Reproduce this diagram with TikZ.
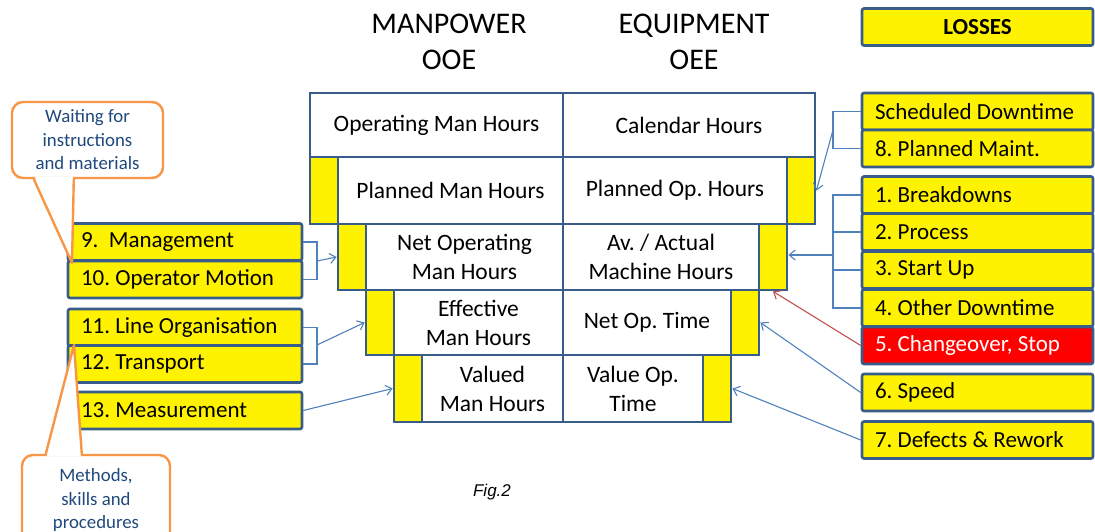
\documentclass[tikz,border=0pt]{standalone}
\usepackage{fontspec}
\setmainfont{Carlito}
\newfontfamily\figfont{Liberation Sans}
\usetikzlibrary{arrows.meta,calc}
\frenchspacing

\definecolor{boxblue}{HTML}{385D8A}
\definecolor{linkblue}{HTML}{4F81BD}
\definecolor{linkred}{HTML}{C0504D}
\definecolor{calloutorange}{HTML}{F79646}
\definecolor{callouttext}{HTML}{1F497D}

\tikzset{
  lossbox/.style={draw=boxblue, fill=yellow, line width=2.6pt, rounded corners=2pt,
    minimum height=37pt, text width=205pt, inner xsep=13pt, inner ysep=0pt,
    align=flush left, font=\fontsize{23}{27}\selectfont, anchor=center},
  cell/.style={draw=boxblue, line width=2.8pt, fill=white, inner sep=0pt,
    align=center, font=\fontsize{23.5}{29}\selectfont},
  strip/.style={draw=boxblue, line width=2.8pt, fill=yellow, inner sep=0pt},
  head/.style={font=\fontsize{30}{36}\selectfont, align=center},
  link/.style={draw=linkblue, line width=1.1pt},
  linkarrow/.style={link, -{Straight Barb[length=6pt,width=10pt]}},
  callout/.style={draw=calloutorange, line width=2.4pt, fill=white, rounded corners=11pt,
    align=center, text=callouttext, font=\fontsize{18.8}{23.5}\selectfont, inner sep=0pt}
}

\begin{document}
\begin{tikzpicture}[x=1pt,y=-1pt]
\useasboundingbox (0,0) rectangle (1095,532);

% column headings
\node[head] (hman) at (449,42) {MANPOWER\\OOE};
\node[head] (heq) at (694,42) {EQUIPMENT\\OEE};
\node[lossbox, align=center, font=\fontsize{23}{27}\selectfont\bfseries] (losses) at (977.5,27) {LOSSES};

% loss table: cells (centre x, centre y, width, height)
% row 1
\node[cell, minimum width=253pt, minimum height=64pt] (c1a) at (436.5,125) {Operating Man Hours};
\node[cell, minimum width=252pt, minimum height=64pt] (c1b) at (689,125) {Calendar Hours};
% row 2
\node[cell, minimum width=225pt, minimum height=67pt] (c2a) at (450.5,190.5) {Planned Man Hours};
\node[cell, minimum width=224pt, minimum height=67pt] (c2b) at (675,190.5) {Planned Op. Hours};
\node[strip, minimum width=28pt, minimum height=67pt] (s2L) at (324,190.5) {};
\node[strip, minimum width=28pt, minimum height=67pt] (s2R) at (801,190.5) {};
% row 3
\node[cell, minimum width=197pt, minimum height=66pt] (c3a) at (464.5,257) {Net Operating\\Man Hours};
\node[cell, minimum width=196pt, minimum height=66pt] (c3b) at (661,257) {Av. / Actual\\Machine Hours};
\node[strip, minimum width=28pt, minimum height=66pt] (s3L) at (352,257) {};
\node[strip, minimum width=28pt, minimum height=66pt] (s3R) at (773,257) {};
% row 4
\node[cell, minimum width=169pt, minimum height=65pt] (c4a) at (478.5,322.5) {Effective\\Man Hours};
\node[cell, minimum width=168pt, minimum height=65pt] (c4b) at (647,322.5) {Net Op. Time};
\node[strip, minimum width=28pt, minimum height=65pt] (s4L) at (380,322.5) {};
\node[strip, minimum width=28pt, minimum height=65pt] (s4R) at (745,322.5) {};
% row 5
\node[cell, minimum width=141pt, minimum height=67pt] (c5a) at (492.5,388.5) {Valued\\Man Hours};
\node[cell, minimum width=140pt, minimum height=67pt] (c5b) at (633,388.5) {Value Op.\\Time};
\node[strip, minimum width=28pt, minimum height=67pt] (s5L) at (408,388.5) {};
\node[strip, minimum width=28pt, minimum height=67pt] (s5R) at (717,388.5) {};

% equipment losses
\node[lossbox] (sched) at (977.5,111.5) {Scheduled Downtime};
\node[lossbox] (pm) at (977.5,148.5) {8. Planned Maint.};
\node[lossbox] (bd) at (977.5,195) {1. Breakdowns};
\node[lossbox] (proc) at (977.5,232) {2. Process};
\node[lossbox] (su) at (977.5,270) {3. Start Up};
\node[lossbox] (od) at (977.5,308) {4. Other Downtime};
\node[lossbox, fill=red, text=white] (co) at (977.5,345.5) {5. Changeover, Stop};
\node[lossbox] (sp) at (977.5,392.5) {6. Speed};
\node[lossbox] (dr) at (977.5,440) {7. Defects \& Rework};

% manpower losses
\node[lossbox, text width=208pt] (mg) at (185,242) {9.\ \ Management};
\node[lossbox, text width=208pt] (om) at (185,279.5) {10. Operator Motion};
\node[lossbox, text width=208pt] (lo) at (185,327.5) {11. Line Organisation};
\node[lossbox, text width=208pt] (tr) at (185,364) {12. Transport};
\node[lossbox, text width=208pt] (ms) at (185,410.5) {13. Measurement};

% junctions of the bracket connectors
\coordinate (jA) at (833,130);
\coordinate (jB) at (833,255);
\coordinate (jC) at (317,261);
\coordinate (jD) at (317,345);

% right-hand connectors
\draw[link] (sched.west) -| (jA);
\draw[link] (pm.west) -| (jA);
\draw[linkarrow] (jA) -- (s2R.east);
\draw[link] (bd.west) -| (jB);
\draw[link] (od.west) -| (jB);
\draw[link] (proc.west) -- (proc.west -| jB);
\draw[link] (su.west) -- (su.west -| jB);
\draw[linkarrow] (jB) -- (jB -| s3R.east);
\draw[linkarrow, draw=linkred] (co.west) -- (s3R.south);
\draw[linkarrow] (sp.west) -- (s4R.east);
\draw[linkarrow] (dr.west) -- (s5R.east);

% left-hand connectors
\draw[link] (mg.east) -| (jC);
\draw[link] (om.east) -| (jC);
\draw[linkarrow] (jC) -- (s3L.west);
\draw[link] (lo.east) -| (jD);
\draw[link] (tr.east) -| (jD);
\draw[linkarrow] (jD) -- (s4L.west);
\draw[linkarrow] (ms.east) -- (s5L.west);

% callouts
\node[callout, minimum width=151pt, minimum height=76pt] (cw) at (87.5,140) {Waiting for\\instructions\\and materials};
\coordinate (cwTip) at (72,263);
\fill[white] ($(cw.south west)+(24,-2.5)$) -- (cwTip) -- ($(cw.south west)+(62,-2.5)$) -- cycle;
\draw[calloutorange, line width=2.4pt, line join=round]
  ($(cw.south west)+(23,0)$) -- (cwTip) -- ($(cw.south west)+(63,0)$);

\node[callout, minimum width=148pt, minimum height=90pt] (cm) at (96,500) {Methods,\\skills and\\procedures};
\coordinate (cmTip) at (74,345);
\fill[white] ($(cm.north west)+(26,2.5)$) -- (cmTip) -- ($(cm.north west)+(60,2.5)$) -- cycle;
\draw[calloutorange, line width=2.4pt, line join=round]
  ($(cm.north west)+(25,0)$) -- (cmTip) -- ($(cm.north west)+(61,0)$);

% caption
\node[font=\figfont\itshape\fontsize{17}{19}\selectfont] (fig) at (492,492) {Fig.2};
\end{tikzpicture}
\end{document}
